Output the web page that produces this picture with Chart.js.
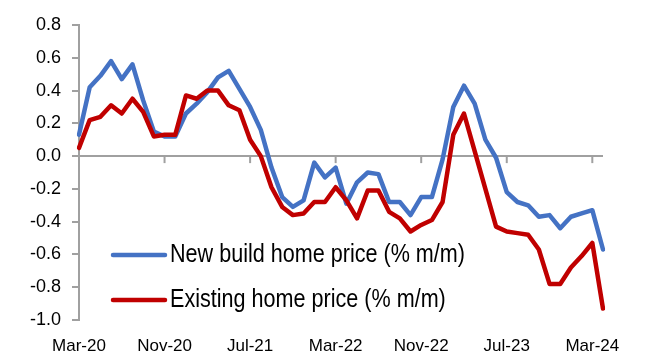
<!DOCTYPE html>
<html lang="en">
<head>
  <meta charset="UTF-8">
  <title>Home prices</title>
  <style>
    body {
      margin: 0;
      background: #fff;
    }
    #chart {
      display: block;
    }
  </style>
</head>
<body>
  <canvas id="chart" width="655" height="353"></canvas>

  <script src="https://cdn.jsdelivr.net/npm/chart.js"></script>
  <script>
    const months = ['Mar-20', 'Apr-20', 'May-20', 'Jun-20', 'Jul-20', 'Aug-20', 'Sep-20', 'Oct-20', 'Nov-20', 'Dec-20',
      'Jan-21', 'Feb-21', 'Mar-21', 'Apr-21', 'May-21', 'Jun-21', 'Jul-21', 'Aug-21', 'Sep-21', 'Oct-21', 'Nov-21', 'Dec-21',
      'Jan-22', 'Feb-22', 'Mar-22', 'Apr-22', 'May-22', 'Jun-22', 'Jul-22', 'Aug-22', 'Sep-22', 'Oct-22', 'Nov-22', 'Dec-22',
      'Jan-23', 'Feb-23', 'Mar-23', 'Apr-23', 'May-23', 'Jun-23', 'Jul-23', 'Aug-23', 'Sep-23', 'Oct-23', 'Nov-23', 'Dec-23',
      'Jan-24', 'Feb-24', 'Mar-24', 'Apr-24'];

    // % m/m
    const newBuild = [0.13, 0.42, 0.49, 0.58, 0.47, 0.56, 0.34, 0.15, 0.12, 0.12,
      0.26, 0.32, 0.39, 0.48, 0.52, 0.41, 0.30, 0.16, -0.07, -0.25, -0.31, -0.27,
      -0.04, -0.13, -0.07, -0.29, -0.16, -0.10, -0.11, -0.28, -0.28, -0.36, -0.25, -0.25,
      -0.02, 0.30, 0.43, 0.32, 0.10, -0.01, -0.22, -0.28, -0.30, -0.37, -0.36, -0.44,
      -0.37, -0.35, -0.33, -0.57];

    const existing = [0.05, 0.22, 0.24, 0.31, 0.26, 0.35, 0.27, 0.12, 0.13, 0.13,
      0.37, 0.35, 0.40, 0.40, 0.31, 0.28, 0.10, 0.00, -0.19, -0.31, -0.36, -0.35,
      -0.28, -0.28, -0.19, -0.27, -0.38, -0.21, -0.21, -0.34, -0.38, -0.46, -0.42, -0.39,
      -0.28, 0.13, 0.26, 0.03, -0.20, -0.43, -0.46, -0.47, -0.48, -0.57, -0.78, -0.78,
      -0.68, -0.61, -0.53, -0.93];

    const yMin = -1.0;
    const yMax = 0.8;
    const yStep = 0.2;
    const labelEvery = 8;

    const axisGrey = '#a0a0a0';
    const fontFamily = '"Liberation Sans", Arial, sans-serif';

    // legend drawn inside the plot, bottom left (text squeezed like the original)
    const insideLegend = {
      id: 'insideLegend',
      afterDraw(chart) {
        const ctx = chart.ctx;
        const rows = [255, 300];
        ctx.save();
        ctx.font = '26px ' + fontFamily;
        ctx.textBaseline = 'middle';
        ctx.fillStyle = '#000';
        chart.data.datasets.forEach((ds, i) => {
          const y = rows[i];
          ctx.strokeStyle = ds.borderColor;
          ctx.lineWidth = 4.5;
          ctx.lineCap = 'round';
          ctx.beginPath();
          ctx.moveTo(113, y);
          ctx.lineTo(165, y);
          ctx.stroke();
          ctx.save();
          ctx.translate(170, y);
          ctx.scale(0.83, 1);
          ctx.fillText(ds.label, 0, 0);
          ctx.restore();
        });
        ctx.restore();
      }
    };

    // small tick marks under the zero line
    const zeroTicks = {
      id: 'zeroTicks',
      beforeDatasetsDraw(chart) {
        const ctx = chart.ctx;
        const xs = chart.scales.x;
        const y0 = chart.scales.y.getPixelForValue(0);
        ctx.save();
        ctx.strokeStyle = axisGrey;
        ctx.lineWidth = 2;
        for (let i = labelEvery; i < months.length; i += labelEvery) {
          const x = xs.getPixelForValue(i);
          ctx.beginPath();
          ctx.moveTo(x, y0);
          ctx.lineTo(x, y0 + 7);
          ctx.stroke();
        }
        ctx.restore();
      }
    };

    new Chart(document.getElementById('chart'), {
      type: 'line',
      data: {
        labels: months,
        datasets: [{
          label: 'New build home price (% m/m)',
          data: newBuild,
          borderColor: '#4472c4',
          order: 1
        }, {
          label: 'Existing home price (% m/m)',
          data: existing,
          borderColor: '#c00000',
          order: 0
        }]
      },
      options: {
        responsive: false,
        animation: false,
        devicePixelRatio: 1,
        layout: {
          padding: { top: 25, right: 52, left: 0, bottom: 0 }
        },
        elements: {
          point: { radius: 0 },
          line: { borderWidth: 4.5, tension: 0, borderJoinStyle: 'round', borderCapStyle: 'round' }
        },
        plugins: {
          legend: { display: false },
          tooltip: { enabled: false }
        },
        scales: {
          x: {
            offset: false,
            grid: { display: false },
            border: { display: false },
            afterFit(scale) { scale.height = 33; },
            ticks: {
              autoSkip: false,
              maxRotation: 0,
              padding: 8,
              color: '#000',
              font: { family: fontFamily, size: 17 },
              callback: (v, i) => (i % labelEvery === 0 ? months[i] : '')
            }
          },
          y: {
            min: yMin,
            max: yMax,
            afterFit(scale) { scale.width = 79; },
            border: { display: true, color: axisGrey, width: 2 },
            grid: {
              lineWidth: 2,
              tickLength: 7,
              tickColor: axisGrey,
              color: c => (c.tick && Math.abs(c.tick.value) < 1e-9 ? axisGrey : 'rgba(0,0,0,0)')
            },
            ticks: {
              stepSize: yStep,
              padding: 11,
              color: '#000',
              font: { family: fontFamily, size: 18 },
              callback: v => v.toFixed(1)
            }
          }
        }
      },
      plugins: [insideLegend, zeroTicks]
    });
  </script>
</body>
</html>
